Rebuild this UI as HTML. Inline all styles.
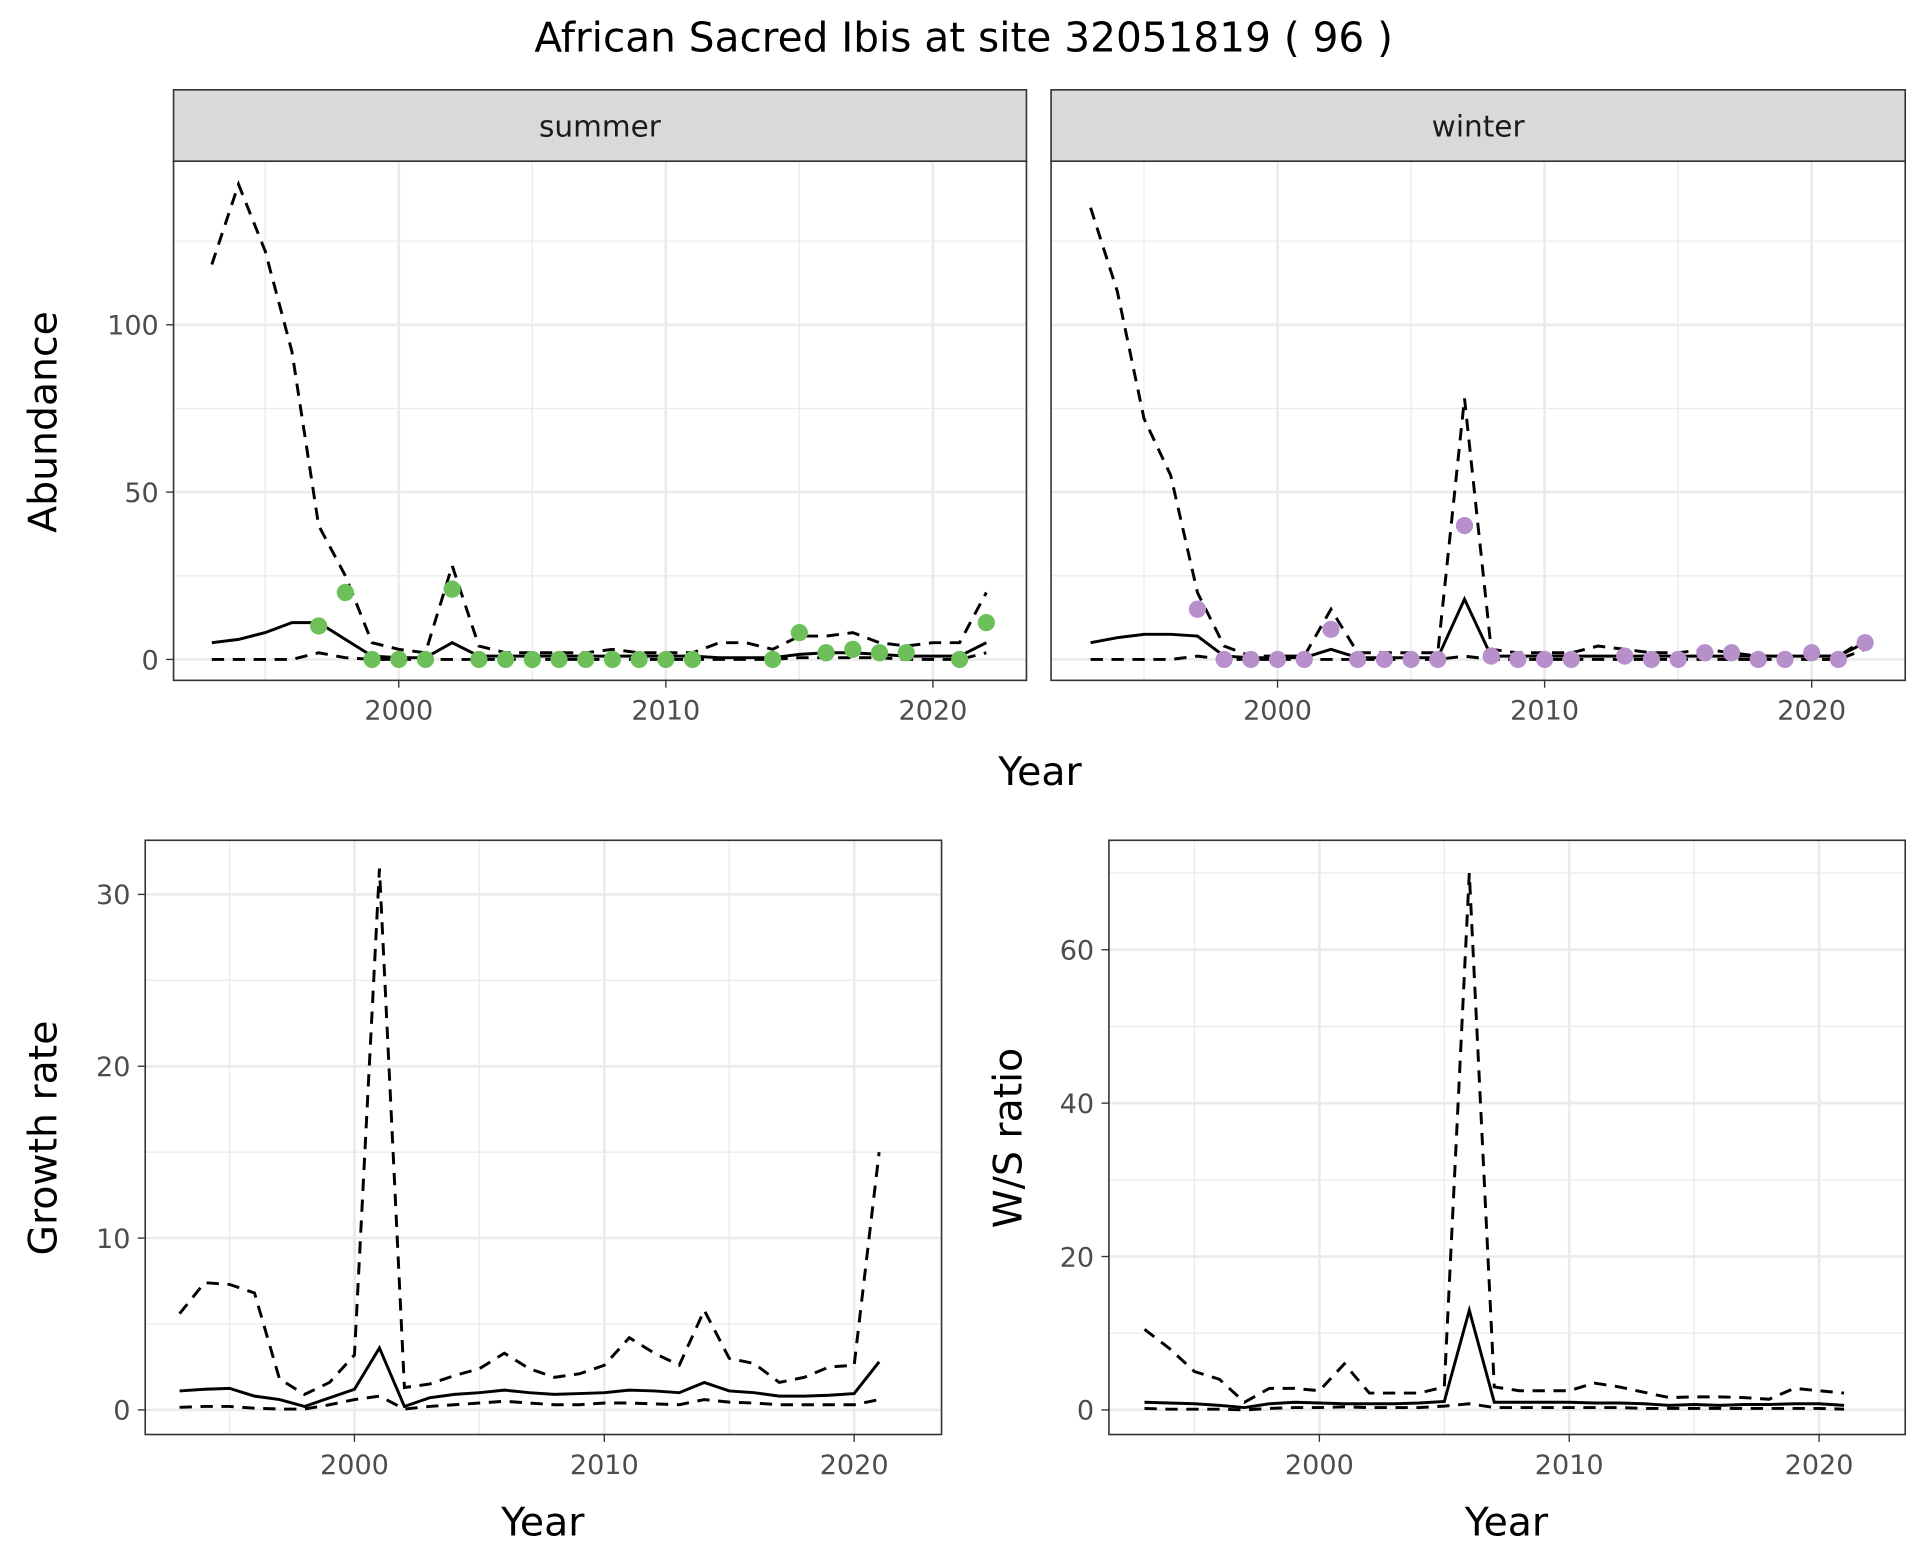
<!DOCTYPE html>
<html><head><meta charset="utf-8"><style>
html,body{margin:0;padding:0;background:#fff;}
svg{display:block;font-family:"DejaVu Sans","Liberation Sans",sans-serif;}
</style></head><body>
<svg id="c" width="1920" height="1560" viewBox="0 0 1560 1268" preserveAspectRatio="none" xmlns="http://www.w3.org/2000/svg">
<rect width="1560" height="1268" fill="#fff"/>
<text x="783" y="42" font-size="33" text-anchor="middle" fill="#000">African Sacred Ibis at site 32051819 ( 96 )</text>
</svg>
<script>
const years = [1993,1994,1995,1996,1997,1998,1999,2000,2001,2002,2003,2004,2005,2006,2007,2008,2009,2010,2011,2012,2013,2014,2015,2016,2017,2018,2019,2020,2021,2022];
const sumMid = [5,6,8,11,11,6,1,0.5,0.5,5,1,1,1,1,1,1,1,1,1,0.5,0.5,0.5,1.5,2,2,1.5,1,1,1,5];
const sumUp = [118,142,122,92,40,25,5,3,2,28,4,2,2,2,2,3,2,2,2,5,5,3,7,7,8,5,4,5,5,20];
const sumLo = [0,0,0,0,2,0.5,0,0,0,0,0,0,0,0,0,0,0,0,0,0,0,0,0.5,0.5,0.5,0.5,0,0,0,2];
const sumPtYears = [1997,1998,1999,2000,2001,2002,2003,2004,2005,2006,2007,2008,2009,2010,2011,2014,2015,2016,2017,2018,2019,2021,2022];
const sumPtVals = [10,20,0,0,0,21,0,0,0,0,0,0,0,0,0,0,8,2,3,2,2,0,11];
const winMid = [5,6.5,7.5,7.5,7,1,0.5,0.5,0.5,3,0.5,0.5,0.5,0.5,18,1,1,1,1,1,1,1,1,1,1,1,1,1,1,5];
const winUp = [135,110,72,55,20,4,1,1,1,15,2,2,2,2,78,3,2,2,2,4,3,2,2,3,2,1,1,1,1,6];
const winLo = [0,0,0,0,1,0,0,0,0,0,0,0,0,0,1,0,0,0,0,0,0,0,0,0,0,0,0,0,0,3];
const winPtYears = [1997,1998,1999,2000,2001,2002,2003,2004,2005,2006,2007,2008,2009,2010,2011,2013,2014,2015,2016,2017,2018,2019,2020,2021,2022];
const winPtVals = [15,0,0,0,0,9,0,0,0,0,40,1,0,0,0,1,0,0,2,2,0,0,2,0,5];
const years2 = [1993,1994,1995,1996,1997,1998,1999,2000,2001,2002,2003,2004,2005,2006,2007,2008,2009,2010,2011,2012,2013,2014,2015,2016,2017,2018,2019,2020,2021];
const grMid = [1.1,1.2,1.25,0.8,0.6,0.2,0.7,1.2,3.6,0.2,0.7,0.9,1.0,1.15,1.0,0.9,0.95,1.0,1.15,1.1,1.0,1.6,1.1,1.0,0.8,0.8,0.85,0.95,2.8];
const grUp = [5.6,7.4,7.3,6.8,1.8,0.9,1.6,3.2,31.5,1.3,1.5,2.0,2.4,3.3,2.4,1.9,2.1,2.6,4.2,3.3,2.6,5.8,3.0,2.7,1.6,1.9,2.5,2.6,15];
const grLo = [0.15,0.2,0.2,0.1,0.05,0.05,0.3,0.6,0.8,0.05,0.2,0.3,0.4,0.5,0.4,0.3,0.3,0.4,0.4,0.35,0.3,0.6,0.45,0.4,0.3,0.3,0.3,0.3,0.6];
const wsMid = [1.0,0.9,0.8,0.6,0.3,0.8,1.0,0.9,0.8,0.8,0.8,0.9,1.1,13,1.0,1.0,1.0,1.0,0.9,0.9,0.8,0.6,0.7,0.6,0.7,0.7,0.8,0.8,0.6];
const wsUp = [10.5,8,5,4,1,2.8,2.8,2.5,6,2.2,2.2,2.2,3,70,3,2.5,2.5,2.5,3.5,3,2.3,1.6,1.7,1.7,1.6,1.4,2.8,2.5,2.2];
const wsLo = [0.2,0.1,0.1,0.1,0,0.2,0.3,0.3,0.4,0.3,0.3,0.3,0.5,0.8,0.3,0.3,0.3,0.3,0.3,0.3,0.2,0.2,0.2,0.2,0.2,0.2,0.2,0.2,0.1];
const xTicks = [2000,2010,2020];
const xMinor = [1995,2005,2015];
const topTicks = [0,50,100]; const topMinor = [25,75,125];
const grTicks = [0,10,20,30]; const grMinor = [5,15,25];
const wsTicks = [0,20,40,60]; const wsMinor = [10,30,50,70];

const svg = document.getElementById('c');
const NS = 'http://www.w3.org/2000/svg';
function mk(tag, attrs, parent){const e=document.createElementNS(NS,tag);for(const k in attrs)e.setAttribute(k,attrs[k]);(parent||svg).appendChild(e);return e;}

function panel(name, x0,x1,y0,y1, xs, ys, yTicks, yMinor, showY, series, pts, ptColor){
  const g = mk('g',{});
  
  
  yMinor.forEach(v=>{const y=ys(v); if(y>y0&&y<y1){const l=mk('line',{x1:x0,x2:x1,y1:y,y2:y,stroke:'#ebebeb','stroke-width':1.1},g);}});
  xMinor.forEach(v=>{const x=xs(v);const l=mk('line',{x1:x,x2:x,y1:y0,y2:y1,stroke:'#ebebeb','stroke-width':1.1},g);});
  yTicks.forEach(v=>{const y=ys(v);const l=mk('line',{x1:x0,x2:x1,y1:y,y2:y,stroke:'#ebebeb','stroke-width':2.2},g);
    if(showY){mk('line',{x1:x0-6,x2:x0,y1:y,y2:y,stroke:'#333','stroke-width':1.1},g);
      const t=mk('text',{x:x0-12,y:y+8,'font-size':22,'text-anchor':'end',fill:'#4d4d4d'},g);t.textContent=v;}});
  xTicks.forEach(v=>{const x=xs(v);const l=mk('line',{x1:x,x2:x,y1:y0,y2:y1,stroke:'#ebebeb','stroke-width':2.2},g);
    mk('line',{x1:x,x2:x,y1:y1,y2:y1+6,stroke:'#333','stroke-width':1.1},g);
    const t=mk('text',{x:x,y:y1+32,'font-size':22,'text-anchor':'middle',fill:'#4d4d4d'},g);t.textContent=v;});
  series.forEach(s=>{const d=s.yr.map((yr,i)=>(i?'L':'M')+xs(yr).toFixed(1)+','+ys(s.v[i]).toFixed(1)).join('');
    const p=mk('path',{d:d,fill:'none',stroke:'#000','stroke-width':2.4,'stroke-dasharray':s.dash?'10 7':'none'},g);
    
    });
  if(pts){pts.yr.forEach((yr,i)=>{const c=mk('circle',{cx:xs(yr),cy:ys(pts.v[i]),r:7,fill:ptColor},g);
    
    });}
  mk('rect',{x:x0,y:y0,width:x1-x0,height:y1-y0,fill:'none',stroke:'#333','stroke-width':1.3},g);
}
function lin(d0,d1,r0,r1){return v=>r0+(v-d0)*(r1-r0)/(d1-d0);}

const ysTop = lin(0,100,536,264);
const tops=[{n:'summer',x0:141,x1:834,mid:sumMid,up:sumUp,lo:sumLo,py:sumPtYears,pv:sumPtVals,col:'#6dbf5a',show:true,xs:lin(2000,2020,324,758)},
  {n:'winter',x0:854,x1:1548,mid:winMid,up:winUp,lo:winLo,py:winPtYears,pv:winPtVals,col:'#b68fcb',show:false,xs:lin(2000,2020,1038,1472)}];
tops.forEach(p=>{
  panel(p.n+'-panel',p.x0,p.x1,131,553,p.xs,ysTop,topTicks,topMinor,p.show,
    [{yr:years,v:p.up,dash:true,name:'upper-bound-line'},{yr:years,v:p.lo,dash:true,name:'lower-bound-line'},{yr:years,v:p.mid,dash:false,name:'estimate-line'}],
    {yr:p.py,v:p.pv},p.col);
  const s=mk('rect',{x:p.x0,y:73,width:p.x1-p.x0,height:58,fill:'#d9d9d9',stroke:'#333','stroke-width':1.3});
  
  const t=mk('text',{x:(p.x0+p.x1)/2,y:111,'font-size':24,'text-anchor':'middle',fill:'#1a1a1a'});t.textContent=p.n;
  
});
panel('growth-rate-panel',118,765,683,1166,lin(2000,2020,288,694),lin(0,30,1146,727),grTicks,grMinor,true,
  [{yr:years2,v:grUp,dash:true,name:'upper-bound-line'},{yr:years2,v:grLo,dash:true,name:'lower-bound-line'},{yr:years2,v:grMid,dash:false,name:'estimate-line'}],null,null);
panel('ws-ratio-panel',901,1548,683,1166,lin(2000,2020,1072,1478),lin(0,60,1146,772),wsTicks,wsMinor,true,
  [{yr:years2,v:wsUp,dash:true,name:'upper-bound-line'},{yr:years2,v:wsLo,dash:true,name:'lower-bound-line'},{yr:years2,v:wsMid,dash:false,name:'estimate-line'}],null,null);

function label(txt,x,y,rot,name){const t=mk('text',{x:x,y:y,'font-size':32,'text-anchor':'middle',fill:'#000',transform:rot?`rotate(-90 ${x} ${y})`:''});t.textContent=txt;
  }
label('Abundance',46,343,true,'y-axis-title-abundance');
label('Year',845,638,false,'x-axis-title-top');
label('Growth rate',46,925,true,'y-axis-title-growth');
label('Year',441,1248,false,'x-axis-title-growth');
label('W/S ratio',830,925,true,'y-axis-title-ws');
label('Year',1224,1248,false,'x-axis-title-ws');
</script>
</body></html>
